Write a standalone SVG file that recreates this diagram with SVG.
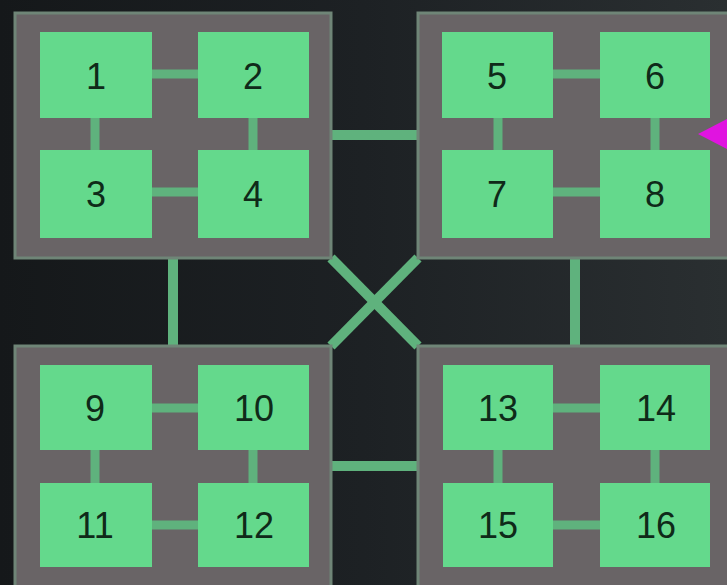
<svg xmlns="http://www.w3.org/2000/svg" width="727" height="585" viewBox="0 0 727 585">
<defs>
<linearGradient id="bg" x1="0" y1="0" x2="1" y2="0">
<stop offset="0" stop-color="#15181a"/>
<stop offset="0.5" stop-color="#1d2124"/>
<stop offset="1" stop-color="#2a2f31"/>
</linearGradient>
<style>
.box{fill:#696466;stroke:#6f8577;stroke-width:3}
.sq{fill:#64d98c}
.ln{stroke:#5fb27d;stroke-width:9;fill:none}
.ext{stroke:#5fb27d;stroke-width:10;fill:none}
text{font-family:"Liberation Sans",Arial,sans-serif;font-size:36px;fill:#0f2a19;text-anchor:middle;dominant-baseline:central}
</style>
</defs>
<rect width="727" height="585" fill="url(#bg)"/>
<g id="connectors">
<line class="ext" x1="331" y1="135" x2="418" y2="135"/>
<line class="ext" x1="331" y1="466" x2="418" y2="466"/>
<line class="ext" x1="173" y1="258" x2="173" y2="346"/>
<line class="ext" x1="575" y1="258" x2="575" y2="346"/>
<line class="ext" x1="331" y1="258" x2="418" y2="346"/>
<line class="ext" x1="418" y1="258" x2="331" y2="346"/>
</g>
<g id="box-a">
<rect class="box" x="15" y="13" width="316" height="245"/>
</g>
<g id="box-b">
<rect class="box" x="418" y="13" width="320" height="245"/>
</g>
<g id="box-c">
<rect class="box" x="15" y="346" width="316" height="250"/>
</g>
<g id="box-d">
<rect class="box" x="418" y="346" width="320" height="250"/>
</g>
<g id="inner-links">
<line class="ln" x1="152" y1="74" x2="198" y2="74"/>
<line class="ln" x1="152" y1="192" x2="198" y2="192"/>
<line class="ln" x1="95" y1="117" x2="95" y2="150"/>
<line class="ln" x1="253" y1="117" x2="253" y2="150"/>
<line class="ln" x1="553" y1="74" x2="600" y2="74"/>
<line class="ln" x1="553" y1="192" x2="600" y2="192"/>
<line class="ln" x1="498" y1="117" x2="498" y2="150"/>
<line class="ln" x1="655" y1="117" x2="655" y2="150"/>
<line class="ln" x1="152" y1="408" x2="198" y2="408"/>
<line class="ln" x1="152" y1="525" x2="198" y2="525"/>
<line class="ln" x1="95" y1="450" x2="95" y2="483"/>
<line class="ln" x1="253" y1="450" x2="253" y2="483"/>
<line class="ln" x1="553" y1="408" x2="600" y2="408"/>
<line class="ln" x1="553" y1="525" x2="600" y2="525"/>
<line class="ln" x1="498" y1="450" x2="498" y2="483"/>
<line class="ln" x1="655" y1="450" x2="655" y2="483"/>
</g>
<g id="n1"><rect class="sq" x="40" y="32" width="112" height="86"/><text x="96" y="76">1</text></g>
<g id="n2"><rect class="sq" x="198" y="32" width="111" height="86"/><text x="253" y="76">2</text></g>
<g id="n3"><rect class="sq" x="40" y="150" width="112" height="88"/><text x="96" y="194">3</text></g>
<g id="n4"><rect class="sq" x="198" y="150" width="111" height="88"/><text x="253" y="194">4</text></g>
<g id="n5"><rect class="sq" x="442" y="32" width="111" height="86"/><text x="497" y="76">5</text></g>
<g id="n6"><rect class="sq" x="600" y="32" width="110" height="86"/><text x="655" y="76">6</text></g>
<g id="n7"><rect class="sq" x="442" y="150" width="111" height="88"/><text x="497" y="194">7</text></g>
<g id="n8"><rect class="sq" x="600" y="150" width="110" height="88"/><text x="655" y="194">8</text></g>
<g id="n9"><rect class="sq" x="40" y="365" width="112" height="85"/><text x="95" y="408">9</text></g>
<g id="n10"><rect class="sq" x="198" y="365" width="111" height="85"/><text x="254" y="408">10</text></g>
<g id="n11"><rect class="sq" x="40" y="483" width="112" height="84"/><text x="95" y="525">11</text></g>
<g id="n12"><rect class="sq" x="198" y="483" width="111" height="84"/><text x="254" y="525">12</text></g>
<g id="n13"><rect class="sq" x="443" y="365" width="110" height="85"/><text x="498" y="408">13</text></g>
<g id="n14"><rect class="sq" x="600" y="365" width="110" height="85"/><text x="656" y="408">14</text></g>
<g id="n15"><rect class="sq" x="443" y="483" width="110" height="84"/><text x="498" y="525">15</text></g>
<g id="n16"><rect class="sq" x="600" y="483" width="110" height="84"/><text x="656" y="525">16</text></g>
<g id="pointer"><polygon points="698,134 727,119 727,149" fill="#e014e0"/></g>
</svg>
